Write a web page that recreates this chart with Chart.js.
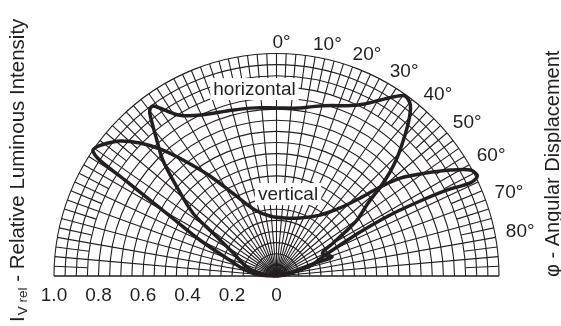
<!DOCTYPE html>
<html>
<head>
<meta charset="utf-8">
<script src="https://cdn.jsdelivr.net/npm/chart.js@4.4.1/dist/chart.umd.min.js"></script>
<style>
  html, body { margin: 0; padding: 0; background: #fff; }
</style>
</head>
<body>
<canvas id="chart" width="561" height="326"></canvas>
<script>
// angular displacement (deg) and relative luminous intensity
const hAngle = [-90, -82, -73, -62, -55.9, -53, -48.2, -44.4, -41.3, -37.8, -36.8, -35.8, -31, -25, -15, -7, 0, 8, 12, 18, 22.5, 27, 30.5, 33.5, 35.5, 38, 40.3, 43, 45.4, 47.5, 49.3, 51.4, 55.2, 57.3, 59.7, 63.7, 71, 71.5, 75, 83, 90];
const hValue = [0, 0.066, 0.14, 0.22, 0.345, 0.47, 0.60, 0.73, 0.815, 0.93, 0.945, 0.944, 0.845, 0.80, 0.773, 0.763, 0.757, 0.764, 0.78, 0.807, 0.83, 0.87, 0.92, 0.97, 0.996, 0.977, 0.92, 0.836, 0.763, 0.69, 0.615, 0.527, 0.44, 0.367, 0.295, 0.23, 0.264, 0.183, 0.11, 0.04, 0];

const vAngle = [-90, -86.5, -79.2, -69.7, -64.8, -61.1, -59, -57.6, -56.7, -55.6, -54.2, -52.4, -49.2, -45.7, -42.5, -38.5, -33.6, -27.1, -18, -6.2, 8.3, 22, 35.5, 43, 47, 49.3, 51.6, 55.3, 58.6, 61.3, 63.5, 64.3, 63.2, 62.4, 61.7, 62.2, 64, 66.6, 73.4, 77.5, 90];
const vValue = [0, 0.074, 0.144, 0.247, 0.381, 0.522, 0.665, 0.808, 0.951, 1.0, 0.995, 0.975, 0.931, 0.858, 0.776, 0.662, 0.541, 0.41, 0.313, 0.272, 0.264, 0.282, 0.337, 0.419, 0.515, 0.615, 0.71, 0.814, 0.916, 0.994, 1.009, 0.967, 0.86, 0.729, 0.58, 0.425, 0.318, 0.238, 0.157, 0.062, 0];

const radiusTicks = [-1.0, -0.8, -0.6, -0.4, -0.2, 0];
const radiusLabels = ['1.0', '0.8', '0.6', '0.4', '0.2', '0'];
const angleTicks = [0, 10, 20, 30, 40, 50, 60, 70, 80];
const curveNames = ['horizontal', 'vertical'];

const ink = '#231f20';
const font = '"Liberation Sans", Arial, Helvetica, sans-serif';

function toXY(angles, values) {
  return angles.map((a, i) => {
    const t = a * Math.PI / 180;
    return { x: values[i] * Math.sin(t), y: values[i] * Math.cos(t) };
  });
}

const polarGrid = {
  id: 'polarGrid',
  beforeDatasetsDraw(chart) {
    const ctx = chart.ctx;
    const xs = chart.scales.x, ys = chart.scales.y;
    const cx = xs.getPixelForValue(0), cy = ys.getPixelForValue(0);
    const unit = xs.getPixelForValue(1) - cx;
    const spoke = (a, r0, r1) => {
      const t = a * Math.PI / 180;
      ctx.beginPath();
      ctx.moveTo(cx + unit * r0 * Math.sin(t), cy - unit * r0 * Math.cos(t));
      ctx.lineTo(cx + unit * r1 * Math.sin(t), cy - unit * r1 * Math.cos(t));
      ctx.stroke();
    };
    ctx.save();
    ctx.strokeStyle = ink;
    ctx.lineWidth = 1.1;
    // circles every 0.05
    for (let i = 1; i <= 20; i++) {
      ctx.beginPath();
      ctx.arc(cx, cy, unit * i * 0.05, Math.PI, 2 * Math.PI);
      ctx.stroke();
    }
    // spokes every 5 deg, split in the outer band
    for (let a = -90; a <= 90; a += 5) spoke(a, 0, 1);
    for (let a = -87.5; a < 90; a += 5) spoke(a, 0.85, 1);
    ctx.beginPath();
    ctx.moveTo(cx - unit, cy);
    ctx.lineTo(cx + unit, cy);
    ctx.stroke();

    // angle labels
    ctx.fillStyle = ink;
    ctx.font = '19px ' + font;
    ctx.textAlign = 'left';
    ctx.textBaseline = 'middle';
    angleTicks.forEach(a => {
      const t = (a - 1) * Math.PI / 180;
      ctx.fillText(a + '°', cx + unit * 1.05 * Math.sin(t), cy - unit * 1.05 * Math.cos(t));
    });

    // curve name boxes
    const names = [
      { text: curveNames[0], x: -0.099, y: 0.842 },
      { text: curveNames[1], x: 0.052, y: 0.369 }
    ];
    ctx.textAlign = 'center';
    names.forEach(n => {
      const px = xs.getPixelForValue(n.x), py = ys.getPixelForValue(n.y);
      const w = ctx.measureText(n.text).width;
      ctx.fillStyle = '#fff';
      ctx.fillRect(px - w / 2 - 3, py - 11, w + 6, 22);
      ctx.fillStyle = ink;
      ctx.fillText(n.text, px, py + 1);
    });
    ctx.restore();
  },
  afterDraw(chart) {
    const ctx = chart.ctx;
    ctx.save();
    ctx.fillStyle = ink;
    ctx.textBaseline = 'middle';
    ctx.textAlign = 'left';
    // left title
    ctx.translate(18, 322);
    ctx.rotate(-Math.PI / 2);
    ctx.font = '20.5px ' + font;
    ctx.fillText('I', 0, 0);
    let x = ctx.measureText('I').width + 1;
    ctx.font = '13.5px ' + font;
    ctx.fillText('V rel', x, 5);
    x += ctx.measureText('V rel').width;
    ctx.font = '20.5px ' + font;
    ctx.fillText(' - Relative Luminous Intensity', x, 0);
    ctx.restore();

    ctx.save();
    ctx.fillStyle = ink;
    ctx.textBaseline = 'middle';
    ctx.textAlign = 'left';
    ctx.translate(553, 277);
    ctx.rotate(-Math.PI / 2);
    ctx.font = '20px ' + font;
    ctx.fillText('φ - Angular Displacement', 0, 0);
    ctx.restore();
  }
};

new Chart(document.getElementById('chart'), {
  type: 'scatter',
  data: {
    datasets: [
      { label: curveNames[0], data: toXY(hAngle, hValue), borderColor: ink, backgroundColor: ink },
      { label: curveNames[1], data: toXY(vAngle, vValue), borderColor: ink, backgroundColor: ink }
    ]
  },
  options: {
    responsive: false,
    animation: false,
    devicePixelRatio: 1,
    layout: { padding: { left: 54, right: 62, top: 54, bottom: 19 } },
    datasets: {
      scatter: {
        showLine: true,
        tension: 0.3,
        pointRadius: 0,
        borderWidth: 3.5,
        clip: false
      }
    },
    plugins: { legend: { display: false }, tooltip: { enabled: false } },
    scales: {
      x: {
        type: 'linear', min: -1, max: 1,
        grid: { display: false, drawTicks: false, tickLength: 0 },
        border: { display: false },
        afterBuildTicks: axis => { axis.ticks = radiusTicks.map(v => ({ value: v })); },
        afterFit: axis => { axis.height = 31; },
        ticks: {
          padding: 8,
          color: ink,
          font: { family: font, size: 19 },
          maxRotation: 0,
          autoSkip: false,
          callback: v => radiusLabels[radiusTicks.indexOf(v)]
        }
      },
      y: { type: 'linear', min: 0, max: 1, display: false }
    }
  },
  plugins: [polarGrid]
});
</script>
</body>
</html>
